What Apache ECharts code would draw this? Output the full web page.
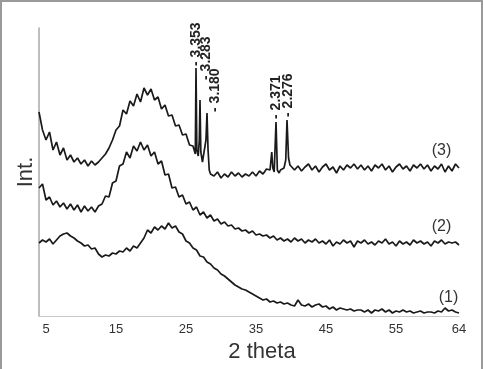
<!DOCTYPE html>
<html>
<head>
<meta charset="UTF-8">
<title>XRD patterns</title>
<script src="https://cdn.jsdelivr.net/npm/echarts@6.0.0/dist/echarts.min.js"></script>
<style>
    body { margin: 0; background: #fff; }
    #root { width: 483px; height: 369px; }
    #frame {
        position: absolute; left: 0; top: 0; width: 483px; height: 369px;
        box-sizing: border-box; border: 2px solid #9a9a9a; border-bottom: none;
        pointer-events: none;
    }
</style>
</head>
<body>
<div id="root"></div>
<div id="frame"></div>
<script>
// 2 theta sampled from 4 to 64, every 0.5 degree
var thetaStart = 4, thetaStep = 0.5;

var curve1 = [
    73, 76, 74, 77, 72, 76, 80, 82, 83, 80,
    78, 75, 73, 70, 71, 67, 68, 62, 59, 61,
    60, 63, 62, 65, 64, 68, 65, 70, 68, 73,
    78, 86, 83, 89, 86, 90, 87, 93, 88, 90,
    84, 82, 75, 73, 68, 66, 60, 59, 54, 52,
    48, 46, 42, 40, 37, 34, 31, 29, 27, 26,
    24, 22, 20, 18, 16, 17, 14, 15, 13, 14,
    12, 13, 11, 10, 16, 11, 10, 12, 9, 11,
    12, 9, 10, 7, 9, 6, 8, 7, 6, 7,
    5, 6, 6, 4, 6, 3, 6, 5, 7, 4,
    6, 3, 5, 4, 6, 4, 5, 3, 4, 5,
    3, 4, 4, 3, 5, 4, 8, 5, 6, 4,
    3
];

var curve2 = [
    128, 132, 116, 119, 111, 115, 109, 113, 107, 112,
    106, 111, 104, 110, 105, 109, 104, 110, 112, 120,
    119, 133, 135, 150, 152, 164, 158, 170, 165, 174,
    166, 171, 160, 164, 152, 155, 141, 142, 128, 129,
    119, 121, 112, 114, 106, 109, 101, 104, 98, 101,
    95, 97, 92, 94, 90, 91, 87, 88, 85, 86,
    83, 85, 81, 82, 80, 81, 78, 80, 76, 78,
    75, 77, 74, 78, 75, 77, 73, 76, 74, 77,
    73, 75, 72, 76, 70, 74, 72, 76, 73, 75,
    69, 75, 73, 76, 72, 74, 71, 75, 73, 77,
    72, 74, 70, 75, 72, 74, 71, 76, 73, 75,
    72, 74, 70, 75, 73, 76, 72, 74, 73, 74,
    71
];

// null where the sharp reflections are given separately in peaks3
var curve3 = [
    204, 186, 176, 184, 166, 174, 161, 168, 156, 161,
    154, 158, 152, 156, 150, 155, 151, 154, 158, 162,
    168, 176, 186, 190, 206, 202, 215, 210, 222, 214,
    228, 221, 227, 216, 219, 207, 211, 200, 201, 190,
    191, 181, 182, 171, 170, null, null, null, null, 142,
    140, 144, 138, 142, 139, 144, 140, 143, 139, 142,
    140, 144, 140, 145, 142, 147, 146, null, null, 146,
    148, null, 150, 146, 150, 145, 149, 152, 146, 150,
    144, 149, 152, 146, 149, 143, 150, 146, 151, 148,
    152, 147, 151, 146, 150, 145, 151, 148, 152, 146,
    150, 144, 149, 152, 147, 150, 145, 151, 148, 152,
    147, 151, 145, 150, 147, 152, 144, 150, 145, 152,
    148
];

// [2 theta, intensity] around the crystalline reflections of (3)
var peaks3 = [
    [26.2, 170], [26.33, 162], [26.43, 248], [26.55, 166], [26.75, 160],
    [26.9, 176], [27.0, 216], [27.12, 164], [27.35, 154], [27.6, 152],
    [27.85, 176], [28.0, 203], [28.15, 166], [28.32, 146],
    [37.25, 164], [37.4, 148], [37.6, 144], [37.86, 194], [38.05, 146], [38.3, 143],
    [39.25, 156], [39.43, 196], [39.65, 158], [39.85, 151]
];

var peakPos = [26.43, 27.0, 28.0, 37.86, 39.43];
var peakText = ['- 3.353', '- 3.283', '- 3.180', '- 2.371', '- 2.276'];
var peakGap = [2, 20, 1, 3, 3];
var peakShift = [0, 6, 8, 0, 1];

var curveNames = ['(1)', '(2)', '(3)'];
var nameTheta = [62.5, 61.5, 61.5];
var tickLabels = [5, 15, 25, 35, 45, 55, 64];

function buildData(values, extra, k) {
    var pts = [];
    values.forEach(function (v, i) {
        if (v != null) pts.push([thetaStart + i * thetaStep, v]);
    });
    (extra || []).forEach(function (p) { pts.push([p[0], p[1]]); });
    pts.sort(function (a, b) { return a[0] - b[0]; });

    return pts.map(function (p) {
        var item = { value: p };
        if (p[0] === nameTheta[k]) {
            item.label = {
                show: true, formatter: curveNames[k], position: 'top', distance: 5,
                fontSize: 16, color: '#333', fontFamily: 'Liberation Sans, Arial'
            };
        }
        var j = k === 2 ? peakPos.indexOf(p[0]) : -1;
        if (j >= 0) {
            // label is rotated, so the second offset moves it sideways
            item.label = {
                show: true, formatter: peakText[j], position: 'top', distance: peakGap[j],
                rotate: 90, align: 'left', verticalAlign: 'middle', offset: [0, peakShift[j]],
                fontSize: 14, fontWeight: 'bold', color: '#222', fontFamily: 'Liberation Sans, Arial'
            };
        }
        return item;
    });
}

function lineSeries(values, extra, k) {
    return {
        type: 'line',
        data: buildData(values, extra, k),
        symbol: 'circle',
        symbolSize: 0.1,
        showSymbol: true,
        showAllSymbol: true,
        itemStyle: { color: 'rgba(0,0,0,0)', borderWidth: 0 },
        lineStyle: { color: '#1a1a1a', width: 1.7 },
        emphasis: { disabled: true },
        silent: true
    };
}

var mychart = echarts.init(document.getElementById('root'));

mychart.setOption({
    animation: false,
    grid: { left: 39, right: 24, top: 28, bottom: 53 },
    xAxis: {
        type: 'value',
        min: 4,
        max: 64,
        name: '2 theta',
        nameLocation: 'middle',
        nameGap: 19,
        nameTextStyle: { fontSize: 22, color: '#333', fontFamily: 'Liberation Sans, Arial', padding: [0, 0, 0, 26] },
        axisLine: { lineStyle: { color: '#c8c8c8', width: 1 } },
        axisTick: { show: false },
        splitLine: { show: false },
        axisLabel: {
            customValues: tickLabels,
            fontSize: 13,
            color: '#333',
            margin: 7,
            fontFamily: 'Liberation Sans, Arial'
        }
    },
    yAxis: {
        type: 'value',
        min: 0,
        max: 288,
        name: 'Int.',
        nameLocation: 'middle',
        nameRotate: 90,
        nameGap: 2,
        nameTextStyle: { fontSize: 22, color: '#333', fontFamily: 'Liberation Sans, Arial' },
        axisLine: { show: true, lineStyle: { color: '#a8a8a8', width: 1.5 } },
        axisTick: { show: false },
        axisLabel: { show: false },
        splitLine: { show: false }
    },
    series: [
        lineSeries(curve1, null, 0),
        lineSeries(curve2, null, 1),
        lineSeries(curve3, peaks3, 2)
    ]
});
</script>
</body>
</html>
